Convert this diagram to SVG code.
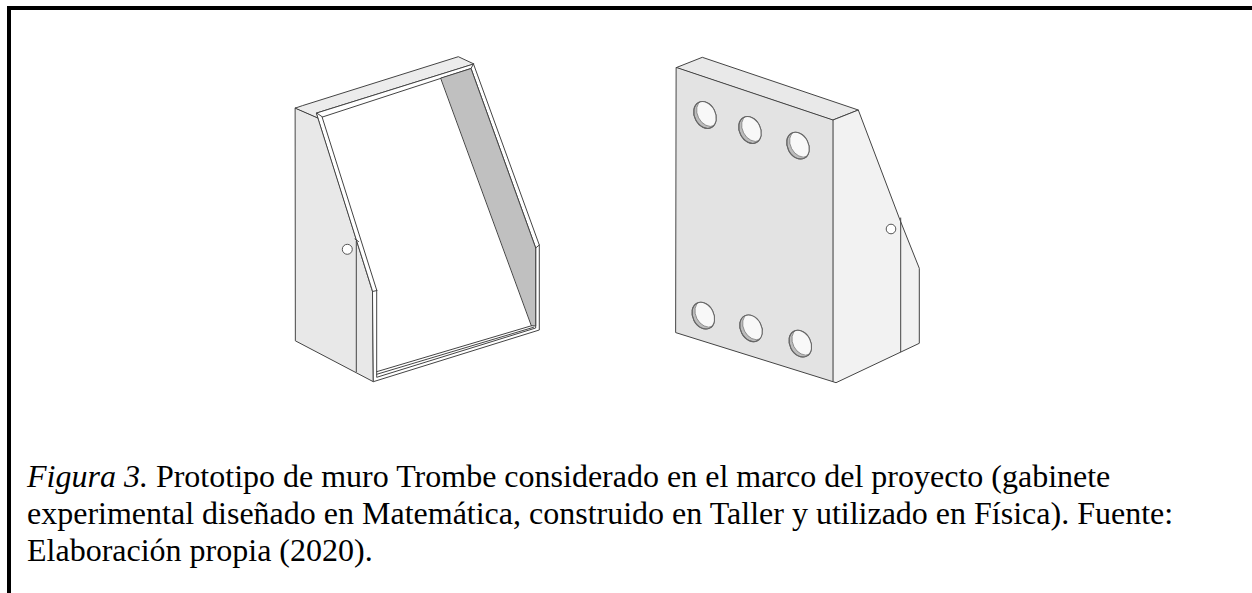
<svg xmlns="http://www.w3.org/2000/svg" width="1252" height="593" viewBox="0 0 1252 593">
<style>
.e{stroke:#444;stroke-width:1;stroke-linejoin:round;stroke-linecap:round}
.l{fill:none}
.t{font-family:"Liberation Serif","Times New Roman",serif;font-size:32px;fill:#000}
.i{font-style:italic}
.hr{fill:#bcbcbc;stroke:#666;stroke-width:1}
.hi{fill:#f8f8f8;stroke:#777;stroke-width:.7}
</style>
<defs>
<clipPath id="hc"><ellipse rx="10.5" ry="14" transform="rotate(-27)"/></clipPath>
<g id="hole">
<ellipse class="hr" rx="10.5" ry="14" transform="rotate(-27)"/>
<g clip-path="url(#hc)"><ellipse class="hi" cx="3.5" cy="-0.4" rx="10.5" ry="14" transform="rotate(-27)"/></g>
<ellipse rx="10.5" ry="14" transform="rotate(-27)" fill="none" stroke="#666" stroke-width="1"/>
</g>
</defs>
<rect width="1252" height="593" fill="#fff"/>
<g id="border" fill="#000">
<rect x="7" y="6" width="1245" height="4"/>
<rect x="7" y="6" width="4" height="587"/>
</g>
<g id="gabinete-frontal">
<polygon class="e" fill="#e8e8e8" points="295.5,108 318.5,118 372.5,291.5 373.3,381.7 295.7,341"/>
<polygon class="e" fill="#ececec" points="295.5,108 302.3,105.7 458.3,56.7 474,64 316.7,113 318.5,118"/>
<polygon class="e" fill="#fff" points="316.7,113 473.5,64 539.3,245 539.3,330 373.3,381.7 372.5,291.5"/>
<polygon fill="#fff" class="e" points="322.5,117 471,68.5 535.7,248 535.7,328 376.7,377.3 376.7,290.5"/>
<polygon class="e" fill="#c0c0c0" points="441,78 471,68.5 535.7,248 535.7,326 531.7,325.7"/>
<g class="e l">
<line x1="356.3" y1="241" x2="356.3" y2="371.7"/>
<line x1="355" y1="239" x2="358.5" y2="241.5"/>
<line x1="372.5" y1="291.5" x2="377" y2="290.5"/>
<line x1="376.7" y1="371.7" x2="531.7" y2="325.7"/>
<line x1="376.7" y1="374.3" x2="533.5" y2="327.3"/>
<line x1="535.7" y1="248" x2="539.3" y2="245"/>
<line x1="316.7" y1="113" x2="322.5" y2="117"/>
<line x1="473.5" y1="64" x2="471" y2="68.5"/>
</g>
<circle cx="347.3" cy="249.3" r="5" fill="#fff" stroke="#555" stroke-width="1"/>
</g>
<g id="gabinete-posterior">
<polygon class="e" fill="#e9e9e9" points="676.5,67.5 702.3,57.3 858.3,110 833,120"/>
<polygon class="e" fill="#f2f2f2" points="833,120 858.3,110 900,220 919.3,268.3 919.3,343.3 836,382.7 833,381.7"/>
<polygon class="e" fill="#e3e3e3" points="676.5,67.5 833,120 833,381.7 676,332.7"/>
<line class="e" x1="900.7" y1="218" x2="900.7" y2="351.7"/>
<circle cx="891" cy="229" r="4.8" fill="#fff" stroke="#555" stroke-width="1"/>
<use href="#hole" x="705" y="115"/>
<use href="#hole" x="750" y="130"/>
<use href="#hole" x="798" y="145.7"/>
<use href="#hole" x="703.3" y="315.7"/>
<use href="#hole" x="751" y="328.3"/>
<use href="#hole" x="800.3" y="343.7"/>
</g>
<g id="pie">
<text class="t" x="27" y="487"><tspan class="i">Figura 3.</tspan> Prototipo de muro Trombe considerado en el marco del proyecto (gabinete</text>
<text class="t" x="27" y="524">experimental diseñado en Matemática, construido en Taller y utilizado en Física). Fuente:</text>
<text class="t" x="27" y="561">Elaboración propia (2020).</text>
</g>
</svg>
